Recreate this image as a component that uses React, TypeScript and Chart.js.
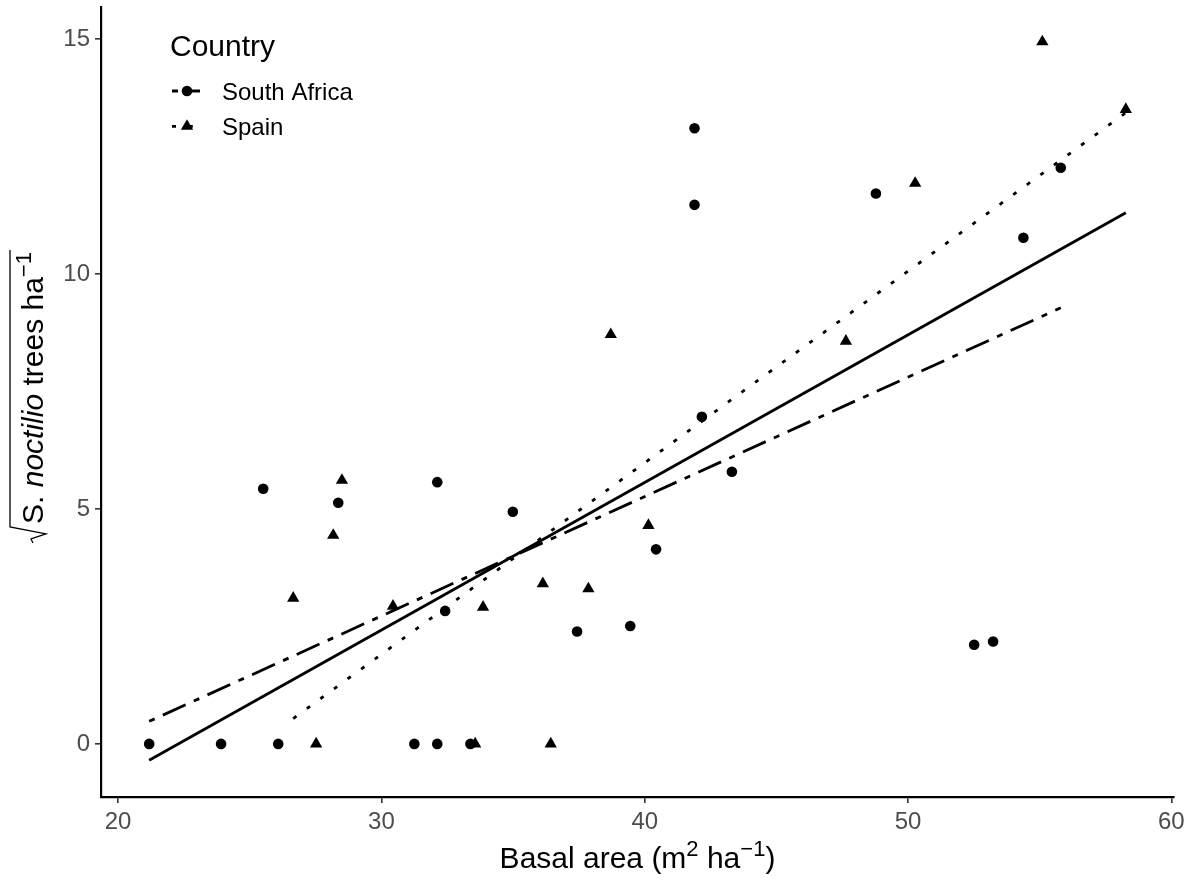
import React, { useEffect, useRef } from 'react';
import { Chart, registerables } from 'chart.js';

Chart.register(...registerables);

const FAMILY = "'Liberation Sans', Arial, Helvetica, sans-serif";

const countries = ['South Africa', 'Spain'];
const xTicks = [20, 30, 40, 50, 60];
const yTicks = [0, 5, 10, 15];

const southAfricaBasalArea = [21.18, 23.91, 26.08, 31.25, 32.12, 33.38, 25.51, 28.36, 32.12, 32.42, 34.99, 37.43, 39.45, 40.43, 41.89, 41.89, 42.17, 43.31, 48.78, 52.51, 53.23, 54.38, 55.8];
const southAfricaTrees = [0, 0, 0, 0, 0, 0, 5.43, 5.13, 5.57, 2.83, 4.94, 2.39, 2.51, 4.14, 13.1, 11.47, 6.96, 5.79, 11.71, 2.11, 2.18, 10.77, 12.26];

const spainBasalArea = [27.52, 33.56, 36.43, 26.65, 28.17, 28.5, 30.44, 33.86, 36.13, 37.86, 38.71, 40.14, 47.64, 50.27, 55.1, 58.27];
const spainTrees = [0, 0, 0, 3.1, 4.44, 5.61, 2.93, 2.91, 3.41, 3.3, 8.71, 4.65, 8.57, 11.93, 14.94, 13.5];

const fitAllX = [21.18, 58.27];
const fitAllY = [-0.35, 11.3];
const fitSouthAfricaX = [21.18, 55.8];
const fitSouthAfricaY = [0.48, 9.28];
const fitSpainX = [26.65, 58.27];
const fitSpainY = [0.54, 13.43];

const SA_DASH = [6, 9, 25, 9];
const SPAIN_DASH = [4, 12.8];
const LINE_W = 2.8;

const pts = (xs: number[], ys: number[]) => xs.map((x, i) => ({ x, y: ys[i] }));

function drawMarker(ctx: CanvasRenderingContext2D, style: string, x: number, y: number) {
  ctx.beginPath();
  if (style === 'circle') {
    ctx.arc(x, y, 5.3, 0, Math.PI * 2);
  } else {
    const r = 7.1;
    let rad = 0;
    ctx.moveTo(x + Math.sin(rad) * r, y - Math.cos(rad) * r);
    rad += (2 * Math.PI) / 3;
    ctx.lineTo(x + Math.sin(rad) * r, y - Math.cos(rad) * r);
    rad += (2 * Math.PI) / 3;
    ctx.lineTo(x + Math.sin(rad) * r, y - Math.cos(rad) * r);
    ctx.closePath();
  }
  ctx.fill();
}

const textPlugin = {
  id: 'ggText',
  afterDraw(chart: any) {
    const { ctx, chartArea } = chart;
    ctx.save();
    ctx.fillStyle = '#000';
    ctx.strokeStyle = '#000';
    ctx.textAlign = 'left';
    ctx.textBaseline = 'alphabetic';

    // X axis title
    const base = `30px ${FAMILY}`;
    const sup = `22px ${FAMILY}`;
    const xParts: [string, string, number][] = [
      ['Basal area (m', base, 0],
      ['2', sup, -12],
      [' ha', base, 0],
      ['\u22121', sup, -12],
      [')', base, 0],
    ];
    let total = 0;
    xParts.forEach(([t, f]) => { ctx.font = f; total += ctx.measureText(t).width; });
    let xx = (chartArea.left + chartArea.right) / 2 - total / 2;
    const xBase = 868;
    xParts.forEach(([t, f, dy]) => {
      ctx.font = f;
      ctx.fillText(t, xx, xBase + dy);
      xx += ctx.measureText(t).width;
    });

    // Y axis title (rotated, with radical)
    ctx.save();
    const cy = (chartArea.top + chartArea.bottom) / 2 - 4;
    ctx.translate(43, cy);
    ctx.rotate(-Math.PI / 2);
    const ita = `italic 30px ${FAMILY}`;
    const yParts: [string, string, number][] = [
      ['S. ', base, 0],
      ['noctilio', ita, 0],
      [' trees ha', base, 0],
      ['\u22121', sup, -12],
    ];
    const radW = 20;
    let yt = radW;
    yParts.forEach(([t, f]) => { ctx.font = f; yt += ctx.measureText(t).width; });
    let u = -yt / 2;
    ctx.lineWidth = 1.3;
    ctx.beginPath();
    ctx.moveTo(u + 1, -10);
    ctx.lineTo(u + 5, -12);
    ctx.lineTo(u + 10, 3);
    ctx.lineTo(u + 17, -33);
    ctx.lineTo(u + yt + 2, -33);
    ctx.stroke();
    u += radW;
    yParts.forEach(([t, f, dy]) => {
      ctx.font = f;
      ctx.fillText(t, u, dy);
      u += ctx.measureText(t).width;
    });
    ctx.restore();

    // Legend
    ctx.font = `30px ${FAMILY}`;
    ctx.fillText('Country', 170, 56);
    const items = [
      { label: countries[0], dash: SA_DASH, style: 'circle', y: 91, ty: 99.8 },
      { label: countries[1], dash: SPAIN_DASH, style: 'triangle', y: 126.3, ty: 134.8 },
    ];
    items.forEach((it) => {
      ctx.save();
      ctx.lineWidth = LINE_W;
      ctx.lineCap = 'butt';
      ctx.setLineDash(it.dash);
      ctx.beginPath();
      ctx.moveTo(172, it.y);
      ctx.lineTo(200, it.y);
      ctx.stroke();
      ctx.restore();
      drawMarker(ctx, it.style, 187, it.y);
      ctx.font = `24px ${FAMILY}`;
      ctx.fillText(it.label, 222, it.ty);
    });
    ctx.restore();
  },
};

export default function App() {
  const ref = useRef<HTMLCanvasElement | null>(null);

  useEffect(() => {
    if (!ref.current) return;
    const lineDs = (label: string, xs: number[], ys: number[], dash: number[]) => ({
      label,
      data: pts(xs, ys),
      showLine: true,
      borderColor: '#000',
      borderWidth: LINE_W,
      borderDash: dash,
      borderCapStyle: 'butt',
      pointRadius: 0,
      fill: false,
      tension: 0,
    });
    const chart = new Chart(ref.current, {
      type: 'scatter',
      data: {
        datasets: [
          lineDs('Overall fit', fitAllX, fitAllY, []),
          lineDs('South Africa fit', fitSouthAfricaX, fitSouthAfricaY, SA_DASH),
          lineDs('Spain fit', fitSpainX, fitSpainY, SPAIN_DASH),
          {
            label: countries[0],
            data: pts(southAfricaBasalArea, southAfricaTrees),
            pointStyle: 'circle',
            pointRadius: 5.3,
            pointBackgroundColor: '#000',
            pointBorderWidth: 0,
            showLine: false,
          },
          {
            label: countries[1],
            data: pts(spainBasalArea, spainTrees),
            pointStyle: 'triangle',
            pointRadius: 7.1,
            pointBackgroundColor: '#000',
            pointBorderWidth: 0,
            showLine: false,
          },
        ],
      } as any,
      options: {
        responsive: false,
        devicePixelRatio: 1,
        animation: false,
        events: [],
        layout: { padding: { left: 0, right: 20, top: 7, bottom: 0 }, autoPadding: false },
        plugins: { legend: { display: false }, tooltip: { enabled: false } },
        scales: {
          x: {
            type: 'linear',
            bounds: 'data',
            min: 19.35,
            max: 60.1,
            afterBuildTicks: (s: any) => { s.ticks = xTicks.map((v) => ({ value: v })); },
            afterFit: (s: any) => { s.height = 87; s.paddingLeft = 0; s.paddingRight = 0; s.paddingTop = 0; s.paddingBottom = 0; },
            grid: { display: true, drawOnChartArea: false, drawTicks: true, tickLength: 6, color: '#333', lineWidth: 1.6 },
            border: { display: true, color: '#000', width: 2.2 },
            ticks: { color: '#4D4D4D', font: { family: FAMILY, size: 24 }, padding: 5, maxRotation: 0 },
          },
          y: {
            type: 'linear',
            bounds: 'data',
            min: -1.13,
            max: 15.68,
            afterBuildTicks: (s: any) => { s.ticks = yTicks.map((v) => ({ value: v })); },
            afterFit: (s: any) => { s.width = 101; s.paddingTop = 0; s.paddingBottom = 0; s.paddingLeft = 0; s.paddingRight = 0; },
            grid: { display: true, drawOnChartArea: false, drawTicks: true, tickLength: 6, color: '#333', lineWidth: 1.6 },
            border: { display: true, color: '#000', width: 2.2 },
            ticks: { color: '#4D4D4D', font: { family: FAMILY, size: 24 }, padding: 5 },
          },
        },
      } as any,
      plugins: [textPlugin],
    });
    return () => chart.destroy();
  }, []);

  return (
    <canvas
      ref={ref}
      width={1194}
      height={884}
      style={{ position: 'absolute', left: 0, top: 0, display: 'block' }}
    />
  );
}
